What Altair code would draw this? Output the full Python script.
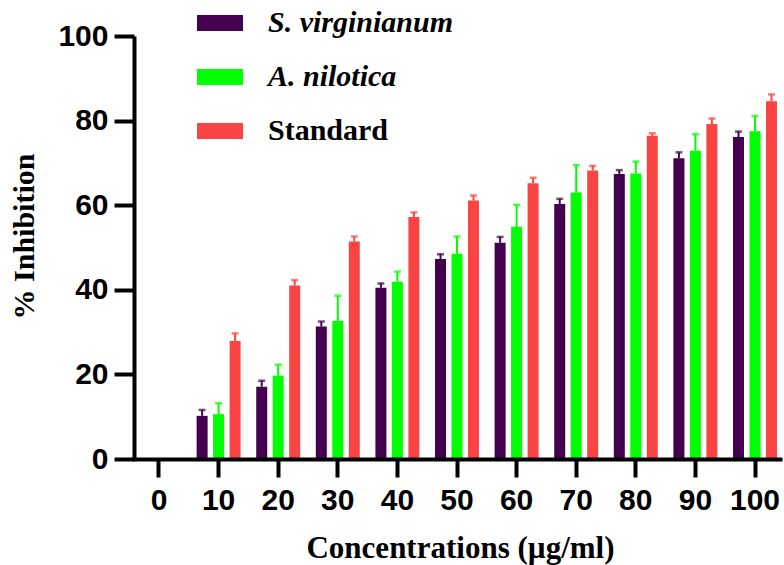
import altair as alt
import pandas as pd

categories = ["0", "10", "20", "30", "40", "50", "60", "70", "80", "90", "100"]
conc = ["10", "20", "30", "40", "50", "60", "70", "80", "90", "100"]
series = ["S. virginianum", "A. nilotica", "Standard"]
colors = ["#43004F", "#00FF00", "#FA4444"]

sv = [10.2, 17.1, 31.3, 40.5, 47.3, 51.1, 60.3, 67.4, 71.1, 76.1]
sv_err = [1.4, 1.4, 1.2, 1.0, 1.1, 1.4, 1.2, 0.9, 1.4, 1.3]
an = [10.6, 19.7, 32.6, 41.9, 48.5, 54.9, 63.0, 67.5, 72.9, 77.5]
an_err = [2.6, 2.6, 6.0, 2.4, 4.1, 5.2, 6.5, 2.8, 3.9, 3.6]
std = [27.9, 41.0, 51.4, 57.2, 61.1, 65.2, 68.2, 76.4, 79.2, 84.6]
std_err = [1.8, 1.3, 1.2, 1.1, 1.2, 1.3, 1.1, 0.6, 1.3, 1.6]

rows = []
for s, vals, errs in zip(series, [sv, an, std], [sv_err, an_err, std_err]):
    for c, v, e in zip(conc, vals, errs):
        rows.append({"conc": c, "series": s, "value": v, "upper": round(v + e, 2)})
df = pd.DataFrame(rows)

x_enc = alt.X(
    "conc:N",
    scale=alt.Scale(domain=categories, range=[-2, 648], paddingInner=0.17, paddingOuter=0.038),
    sort=categories,
    axis=alt.Axis(
        title="Concentrations (µg/ml)",
        labelAngle=0,
        tickSize=18, tickWidth=4, tickColor="black",
        domainWidth=4, domainColor="black",
        labelFont="Liberation Sans", labelFontSize=30, labelFontWeight="bold",
        labelColor="black", labelPadding=8,
        titleFont="Liberation Serif", titleFontSize=31, titleFontWeight="bold",
        titleColor="black", titleX=326, titleY=98, titleBaseline="alphabetic",
        zindex=1,
    ),
)
xoff = alt.XOffset(
    "series:N",
    scale=alt.Scale(domain=series, paddingInner=0.333, paddingOuter=0.167),
)
y_axis = alt.Axis(
    title="% Inhibition",
    values=[0, 20, 40, 60, 80, 100],
    grid=False,
    tickSize=20, tickWidth=4, tickColor="black",
    domainWidth=4, domainColor="black",
    labelFont="Liberation Sans", labelFontSize=30, labelFontWeight="bold",
    labelColor="black", labelPadding=6,
    titleFont="Liberation Serif", titleFontSize=30, titleFontWeight="bold",
    titleColor="black", titleX=-101, titleY=200, titleBaseline="alphabetic",
    zindex=1,
)
y_scale = alt.Scale(domain=[0, 100], nice=False)
color_scale = alt.Scale(domain=series, range=colors)

legend = alt.Legend(
    title=None,
    orient="none",
    legendX=63,
    legendY=-36,
    padding=0,
    symbolType="M-1,-0.35L1,-0.35L1,0.35L-1,0.35Z",
    symbolSize=2116,
    symbolStrokeWidth=0,
    labelOffset=25,
    labelFont="Liberation Serif",
    labelFontSize=30,
    labelFontWeight="bold",
    labelFontStyle={"expr": "datum.label == 'Standard' ? 'normal' : 'italic'"},
    labelColor="black",
    labelLimit=400,
    rowPadding=16,
)

base = alt.Chart(df)

bars = base.mark_bar().encode(
    x=x_enc,
    xOffset=xoff,
    y=alt.Y("value:Q", scale=y_scale, axis=y_axis),
    color=alt.Color("series:N", scale=color_scale, legend=legend, sort=series),
)
rules = base.mark_rule(strokeWidth=2).encode(
    x=x_enc,
    xOffset=xoff,
    y=alt.Y("value:Q", scale=y_scale, axis=y_axis),
    y2="upper:Q",
    color=alt.Color("series:N", scale=color_scale, legend=None),
)
caps = base.mark_tick(thickness=2.5, size=7).encode(
    x=x_enc,
    xOffset=xoff,
    y=alt.Y("upper:Q", scale=y_scale, axis=y_axis),
    color=alt.Color("series:N", scale=color_scale, legend=None),
)

chart = (
    alt.layer(bars, rules, caps)
    .properties(
        width=650,
        height=423,
        autosize=alt.AutoSizeParams(type="none"),
        padding={"left": 134, "top": 36, "right": 0, "bottom": 106},
        background="white",
    )
    .configure_view(stroke=None)
)

chart.save("out.html", embed_options={"renderer": "svg", "actions": False})
